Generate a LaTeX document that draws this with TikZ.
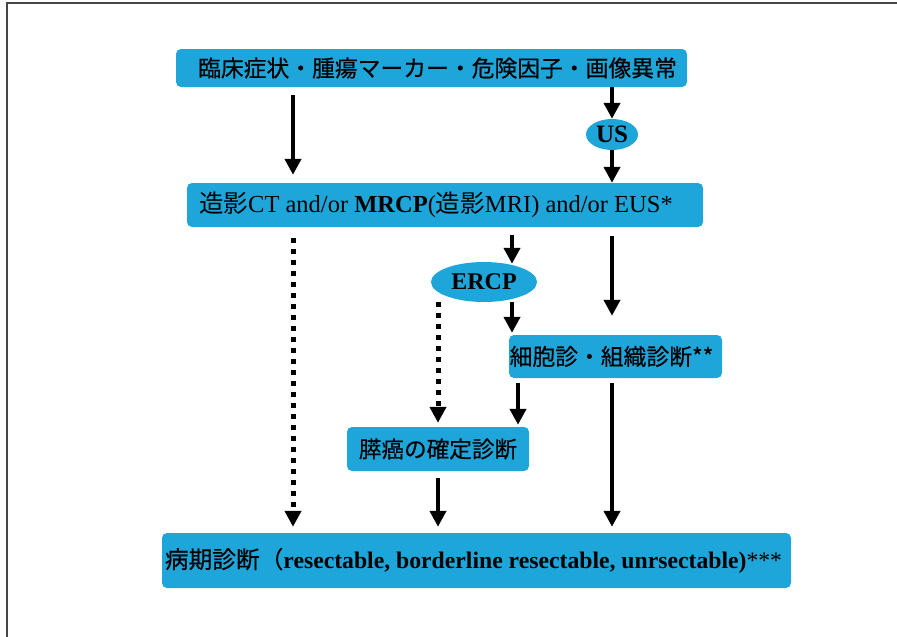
\documentclass[tikz,border=0pt]{standalone}
\usepackage{fontspec}
\setmainfont{Liberation Serif}
\newfontfamily\jp[FakeBold=0.4]{Noto Sans CJK JP}
\newfontfamily\jplight{Noto Sans CJK JP}
\usetikzlibrary{arrows.meta,shapes.geometric}
\definecolor{boxblue}{RGB}{30,166,218}
\definecolor{framegray}{RGB}{70,70,70}
\tikzset{
  box/.style={fill=boxblue, rounded corners=5pt, inner sep=0pt, text=black, align=center},
  oval/.style={ellipse, fill=boxblue, inner sep=0pt, text=black},
  arr/.style={line width=4pt, -{Triangle[width=16pt,length=16pt]}},
  dotarr/.style={line width=5pt, dash pattern=on 5pt off 6pt, -{Triangle[width=16pt,length=16pt]}},
}
\begin{document}
\begin{tikzpicture}[x=1pt,y=-1pt]
\useasboundingbox (0,0) rectangle (897,637);
\draw[framegray, line width=2pt] (7,637) -- (7,3) -- (897,3);

\coordinate (c1) at (293,0);
\coordinate (c2) at (612,0);
\coordinate (c3) at (512,0);
\coordinate (c4) at (438,0);
\coordinate (c5) at (518,0);

\node[box, minimum width=511pt, minimum height=38pt] (b1) at (431.5,68)
  {\jp\fontsize{22.8}{27}\selectfont\hspace*{12pt}臨床症状・腫瘍マーカー・危険因子・画像異常};
\node[oval, minimum width=52pt, minimum height=31pt] (us) at (612,134.5)
  {\fontsize{25}{28}\selectfont\textbf{US}};
\node[box, minimum width=516pt, minimum height=44pt] (b2) at (445,205)
  {\fontsize{24.5}{28}\selectfont{\jplight 造影}CT and/or \textbf{MRCP}({\jplight 造影}MRI) and/or EUS*\hspace*{18pt}};
\node[oval, minimum width=106pt, minimum height=40pt] (ercp) at (484,282)
  {\fontsize{24}{28}\selectfont\textbf{ERCP}};
\node[box, minimum width=213pt, minimum height=43pt] (b3) at (615.5,356.5)
  {\jp\fontsize{22.8}{27}\selectfont 細胞診・組織診断**\hspace*{8pt}};
\node[box, minimum width=182pt, minimum height=44pt] (b4) at (438,449)
  {\jp\fontsize{22.6}{27}\selectfont 膵癌の確定診断};
\node[box, minimum width=629pt, minimum height=55pt] (b5) at (476.5,560.5)
  {\fontsize{23.7}{28}\selectfont{\jp 病期診断（}\textbf{resectable, borderline resectable, unrsectable)}***\hspace*{6pt}};

% arrows
\draw[arr, shorten <=8pt, shorten >=8pt] (b1.south -| c1) -- (b2.north -| c1);
\draw[arr] (b1.south -| c2) -- (us.north);
\draw[arr] (us.south) -- (b2.north -| c2);
\draw[dotarr, shorten <=11pt, shorten >=6pt] (b2.south -| c1) -- (b5.north -| c1);
\draw[arr, shorten <=8pt, shorten >=-2pt] (b2.south -| c3) -- (c3 |- ercp.north);
\draw[arr, shorten >=2pt] (c3 |- ercp.south) -- (b3.north -| c3);
\draw[dotarr, shorten >=4pt] (c4 |- ercp.south) -- (b4.north -| c4);
\draw[arr, shorten <=9pt, shorten >=19pt] (b2.south -| c2) -- (b3.north -| c2);
\draw[arr, shorten <=5pt, shorten >=2pt] (b3.south -| c5) -- (b4.north -| c5);
\draw[arr, shorten <=5pt, shorten >=6pt] (b3.south -| c2) -- (b5.north -| c2);
\draw[arr, shorten <=7pt, shorten >=6pt] (b4.south -| c4) -- (b5.north -| c4);
\end{tikzpicture}
\end{document}
